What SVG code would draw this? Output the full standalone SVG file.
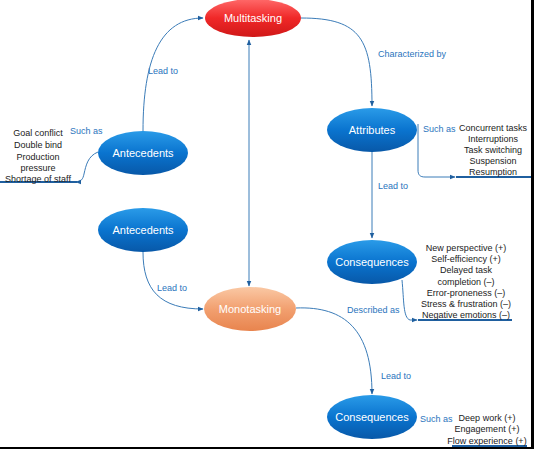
<svg xmlns="http://www.w3.org/2000/svg" width="534" height="449" viewBox="0 0 534 449">
<defs>
<linearGradient id="gb" x1="0" y1="0" x2="0" y2="1"><stop offset="0" stop-color="#2a9be8"/><stop offset="0.5" stop-color="#0a74cf"/><stop offset="1" stop-color="#0858a8"/></linearGradient>
<linearGradient id="gr" x1="0" y1="0" x2="0" y2="1"><stop offset="0" stop-color="#ff6a6a"/><stop offset="0.5" stop-color="#f02828"/><stop offset="1" stop-color="#d01818"/></linearGradient>
<linearGradient id="go" x1="0" y1="0" x2="0" y2="1"><stop offset="0" stop-color="#fac8a4"/><stop offset="0.5" stop-color="#f2a070"/><stop offset="1" stop-color="#e8844e"/></linearGradient>
<marker id="ah" viewBox="0 0 10 10" refX="9" refY="5" markerWidth="6" markerHeight="6" orient="auto-start-reverse"><path d="M0,1 L10,5 L0,9 z" fill="#1f5f9f"/></marker>
<style>
.n{font-family:"Liberation Sans",Arial,sans-serif;font-size:11px;fill:#fff;text-anchor:middle}
.l{font-family:"Liberation Sans",Arial,sans-serif;font-size:9px;fill:#2a74bd}
.t{font-family:"Liberation Sans",Arial,sans-serif;font-size:9px;fill:#222;text-anchor:middle}
.c{fill:none;stroke:#3b7cb8;stroke-width:1}
.u{stroke:#1f5f9f;stroke-width:2}
</style>
</defs>
<rect width="534" height="449" fill="#fff"/>
<rect x="531" y="0" width="3" height="449" fill="#000"/>
<rect x="0" y="447" width="534" height="2" fill="#000"/>
<g id="connectors">
<path class="c" d="M143,131 C143,60 160,18 203,18" marker-end="url(#ah)"/>
<path class="c" d="M301,18 C362,18 372,40 372,106" marker-end="url(#ah)"/>
<path class="c" d="M249,40 L249,286" marker-start="url(#ah)" marker-end="url(#ah)"/>
<path class="c" d="M372,152 L372,238" marker-end="url(#ah)"/>
<path class="c" d="M98,152 C88,156 86,165 84,174 C83,179 81,182 76,182" marker-end="url(#ah)"/>
<line class="u" x1="0" y1="182" x2="77" y2="182"/>
<path class="c" d="M418,124 L418,170 C418,175 420,177 425,177 L455,177" marker-end="url(#ah)"/>
<line class="u" x1="456" y1="177" x2="531" y2="177"/>
<path class="c" d="M402,280 C404,300 403,318 410,320 L417,320" marker-end="url(#ah)"/>
<line class="u" x1="418" y1="320" x2="512" y2="320"/>
<path class="c" d="M143,252 C143,290 160,309 203,309" marker-end="url(#ah)"/>
<path class="c" d="M296,308 C345,306 372,330 372,394" marker-end="url(#ah)"/>
<line class="u" x1="452" y1="446" x2="527" y2="446"/>
</g>
<g class="l">
<text x="148" y="74">Lead to</text>
<text x="378" y="57">Characterized by</text>
<text x="70" y="134">Such as</text>
<text x="423" y="132">Such as</text>
<text x="378" y="189">Lead to</text>
<text x="157" y="291">Lead to</text>
<text x="347" y="313">Described as</text>
<text x="381" y="379">Lead to</text>
<text x="420" y="422">Such as</text>
</g>
<g id="multitasking"><ellipse cx="253" cy="18" rx="48" ry="19" fill="url(#gr)"/><text class="n" x="253" y="22">Multitasking</text></g>
<g id="antecedents1"><ellipse cx="143" cy="153" rx="45" ry="22" fill="url(#gb)"/><text class="n" x="143" y="157">Antecedents</text></g>
<g id="antecedents2"><ellipse cx="143" cy="230" rx="45" ry="22" fill="url(#gb)"/><text class="n" x="143" y="234">Antecedents</text></g>
<g id="monotasking"><ellipse cx="250" cy="309" rx="46" ry="22" fill="url(#go)"/><text class="n" x="250" y="313">Monotasking</text></g>
<g id="attributes"><ellipse cx="372" cy="130" rx="45" ry="22" fill="url(#gb)"/><text class="n" x="372" y="134">Attributes</text></g>
<g id="consequences1"><ellipse cx="372" cy="262" rx="45" ry="22" fill="url(#gb)"/><text class="n" x="372" y="266">Consequences</text></g>
<g id="consequences2"><ellipse cx="372" cy="417" rx="45" ry="22" fill="url(#gb)"/><text class="n" x="372" y="421">Consequences</text></g>
<g id="list-antecedents" class="t">
<text x="38" y="136">Goal conflict</text>
<text x="38" y="148">Double bind</text>
<text x="38" y="160">Production</text>
<text x="38" y="171">pressure</text>
<text x="38" y="182">Shortage of staff</text>
</g>
<g id="list-attributes" class="t">
<text x="493" y="131">Concurrent tasks</text>
<text x="493" y="142">Interruptions</text>
<text x="493" y="153">Task switching</text>
<text x="493" y="164">Suspension</text>
<text x="493" y="175">Resumption</text>
</g>
<g id="list-consequences1" class="t">
<text x="466" y="251">New perspective (+)</text>
<text x="466" y="262">Self-efficiency (+)</text>
<text x="466" y="273">Delayed task</text>
<text x="466" y="285">completion (–)</text>
<text x="466" y="296">Error-proneness (–)</text>
<text x="466" y="307">Stress &amp; frustration (–)</text>
<text x="466" y="318">Negative emotions (–)</text>
</g>
<g id="list-consequences2" class="t">
<text x="487" y="421">Deep work (+)</text>
<text x="487" y="432">Engagement (+)</text>
<text x="487" y="444">Flow experience (+)</text>
</g>
</svg>
